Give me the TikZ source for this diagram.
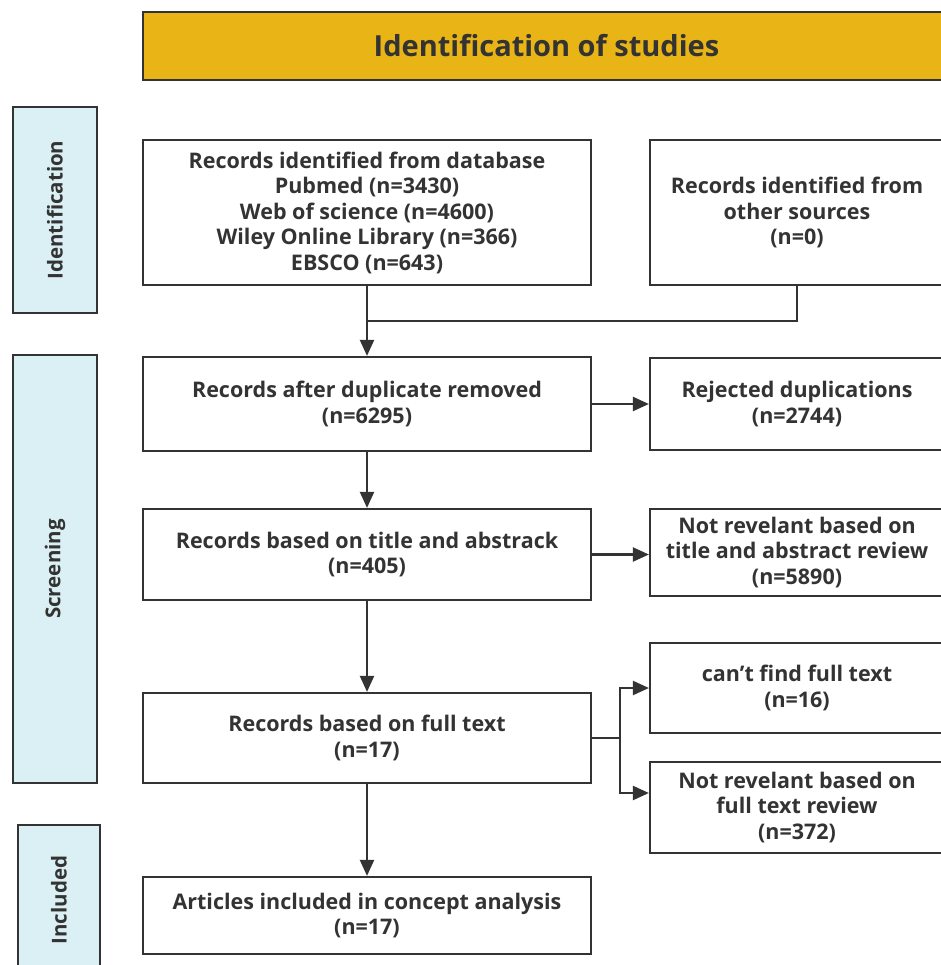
\documentclass[tikz,border=0pt]{standalone}
\usepackage{fontspec}
\setmainfont{Open Sans}
\usetikzlibrary{positioning,arrows.meta}
\definecolor{headfill}{HTML}{E8B416}
\definecolor{sidefill}{HTML}{DAF0F4}
\definecolor{ink}{HTML}{333333}
\begin{document}
\begin{tikzpicture}[
      x=1pt, y=-1pt,
      every node/.style={text=ink, font=\fontsize{21.5}{25.5}\selectfont\bfseries, align=center, inner sep=0pt},
      box/.style={draw=ink, line width=2.2pt, fill=white, minimum width=#1},
      box/.default=448pt,
      sidebox/.style={draw=ink, line width=2.2pt, fill=sidefill, minimum width=84pt, rotate=90,
        font=\fontsize{20.5}{24}\selectfont\bfseries},
      headbox/.style={draw=ink, line width=2.2pt, fill=headfill, minimum width=807pt, minimum height=68pt,
        font=\fontsize{29}{34}\selectfont\bfseries},
      line/.style={draw=ink, line width=2.2pt},
      arrow/.style={line, -{Triangle[length=16pt,width=14pt]}},
    ]
      \useasboundingbox (0,0) rectangle (940,965);
      % header
      \node[headbox] (head) at (546.5,46) {Identification of studies};
      % side labels
      \node[sidebox, minimum width=206pt, minimum height=84pt] (sideid) at (55,210) {Identification};
      \node[sidebox, minimum width=428pt, minimum height=84pt] (sidescr) at (55,569) {Screening};
      \node[sidebox, minimum width=150pt, minimum height=82pt] (sideinc) at (59,900) {Included};
      % main column
      \node[box, minimum height=145pt] (db) at (367,212.5)
        {Records identified from database\\Pubmed (n=3430)\\Web of science (n=4600)\\Wiley Online Library (n=366)\\EBSCO (n=643)};
      \node[box, minimum height=94pt] (dedup) at (367,404) {Records after duplicate removed\\(n=6295)};
      \node[box, minimum height=91pt] (title) at (367,554.5) {Records based on title and abstrack\\(n=405)};
      \node[box, minimum height=90pt] (fulltext) at (367,738) {Records based on full text\\(n=17)};
      \node[box, minimum height=77pt] (included) at (367,915.5) {Articles included in concept analysis\\(n=17)};
      % right column
      \node[box=294pt, minimum height=145pt] (other) at (797,212.5) {Records identified from\\other sources\\(n=0)};
      \node[box=294pt, minimum height=92pt] (rejected) at (797,404) {Rejected duplications\\(n=2744)};
      \node[box=294pt, minimum height=87pt] (notrel1) at (797,552.5) {Not revelant based on\\title and abstract review\\(n=5890)};
      \node[box=294pt, minimum height=90pt] (nofull) at (797,688) {can't find full text\\(n=16)};
      \node[box=294pt, minimum height=91pt] (notrel2) at (797,807.5) {Not revelant based on\\full text review\\(n=372)};
      % connectors
      \coordinate (merge) at (367,321);
      \coordinate (split) at (620,738);
      \draw[line] (db.south) -- (merge);
      \draw[line] (other.south) |- (merge);
      \draw[arrow] (merge) -- (dedup.north);
      \draw[arrow] (dedup.east) -- (rejected.west);
      \draw[arrow] (dedup.south) -- (title.north);
      \draw[arrow] (title.east) -- (title.east -| notrel1.west);
      \draw[arrow] (title.south) -- (fulltext.north);
      \draw[line] (fulltext.east) -- (split);
      \draw[arrow] (split) |- (nofull.west);
      \draw[arrow] (split) |- ([yshift=14.5pt]notrel2.west);
      \draw[arrow] (fulltext.south) -- (included.north);
\end{tikzpicture}
\end{document}
